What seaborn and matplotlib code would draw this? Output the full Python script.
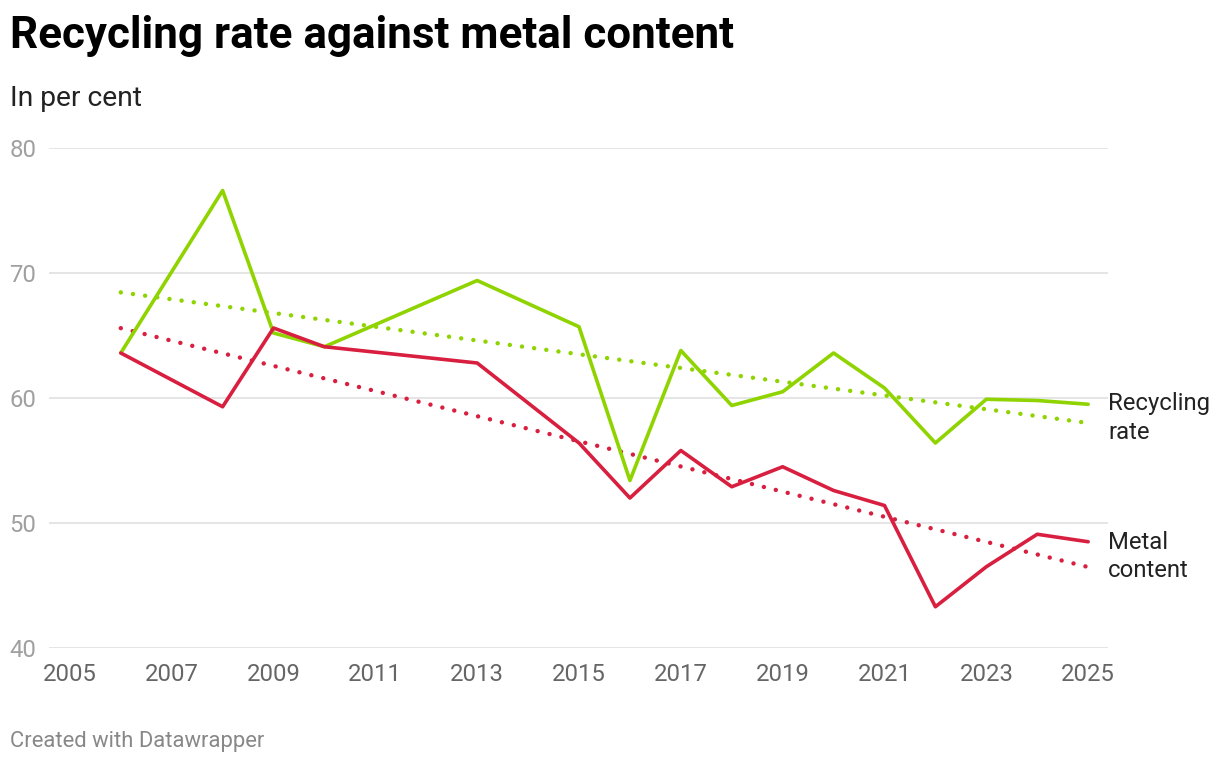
import numpy as np
import pandas as pd
import matplotlib
matplotlib.use("Agg")
import matplotlib.pyplot as plt
import seaborn as sns

years = [2006, 2008, 2009, 2010, 2013, 2015, 2016, 2017, 2018, 2019, 2020, 2021, 2022, 2023, 2024, 2025]
recycling_rate = [63.6, 76.6, 65.2, 64.1, 69.4, 65.7, 53.4, 63.8, 59.4, 60.5, 63.6, 60.8, 56.4, 59.9, 59.8, 59.5]
metal_content = [63.6, 59.3, 65.6, 64.1, 62.8, 56.4, 52.0, 55.8, 52.9, 54.5, 52.6, 51.4, 43.3, 46.5, 49.1, 48.5]
series_names = ["Recycling\nrate", "Metal\ncontent"]
x_ticks = list(range(2005, 2026, 2))
y_ticks = [40, 50, 60, 70, 80]

GREEN = "#8fd400"
RED = "#d81f3f"

sns.set_theme(style="white")
plt.rcParams["font.family"] = ["Roboto", "DejaVu Sans"]

df = pd.DataFrame({"year": years, "Recycling rate": recycling_rate, "Metal content": metal_content})
long = df.melt(id_vars="year", var_name="series", value_name="value")

fig = plt.figure(figsize=(12.2, 7.64), dpi=100)
ax = fig.add_axes([49 / 1220, 1 - 648 / 764, (1108 - 49) / 1220, 500 / 764])

for ys in y_ticks:
    ax.axhline(ys, color="#e3e3e3", lw=1.3, zorder=0)

# trend lines (linear regression)
for col, color in [("Recycling rate", GREEN), ("Metal content", RED)]:
    k, b = np.polyfit(df["year"], df[col], 1)
    tx = np.array([years[0], years[-1]])
    ax.plot(tx, k * tx + b, color=color, lw=3.2, linestyle=(0, (0.01, 2.75)),
            dash_capstyle="round", zorder=2)

sns.lineplot(data=long, x="year", y="value", hue="series",
             palette={"Recycling rate": GREEN, "Metal content": RED},
             hue_order=["Recycling rate", "Metal content"],
             linewidth=2.6, legend=False, ax=ax, zorder=3)

ax.set_xlim(2004.59, 2025.39)
ax.set_ylim(40, 80)
ax.set_xticks(x_ticks)
ax.set_yticks(y_ticks)
ax.set_xticklabels([str(t) for t in x_ticks], fontsize=17.2, color="#666666")
ax.set_yticklabels([str(t) for t in y_ticks], fontsize=17.2, color="#a0a0a0")
ax.tick_params(axis="x", length=0, pad=11)
ax.tick_params(axis="y", length=0, pad=9)
ax.set_xlabel("")
ax.set_ylabel("")
for s in ax.spines.values():
    s.set_visible(False)
ax.grid(False)

# line labels
ax.text(2025.39, recycling_rate[-1] - 1.1, series_names[0], fontsize=17.2, color="#222222",
        va="center", ha="left", linespacing=1.28)
ax.text(2025.39, metal_content[-1] - 1.15, series_names[1], fontsize=17.2, color="#222222",
        va="center", ha="left", linespacing=1.28)

fig.text(10 / 1220, 1 - 36 / 764, "Recycling rate against metal content", fontsize=31.7,
         fontweight="bold", color="#000000", va="center", ha="left")
fig.text(10 / 1220, 1 - 98 / 764, "In per cent", fontsize=20.3, color="#222222",
         va="center", ha="left")
fig.text(10 / 1220, 1 - 741 / 764, "Created with Datawrapper", fontsize=15.8, color="#888888",
         va="center", ha="left")

fig.savefig("out.png", dpi=100, facecolor="white")
